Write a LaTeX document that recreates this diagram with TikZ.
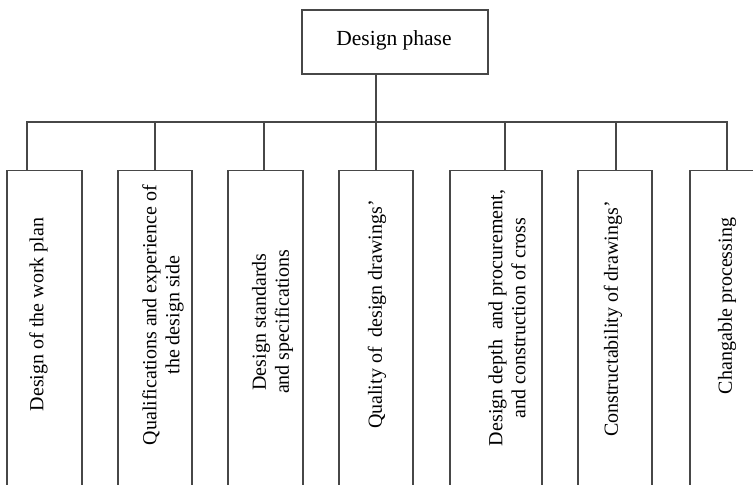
\documentclass[tikz,border=0pt]{standalone}
\usepackage{fontspec}
\setmainfont{Liberation Serif}
\begin{document}
\begin{tikzpicture}[x=1pt,y=-1pt,
  frame/.style={draw=black!72,line width=1.3pt,inner sep=0pt},
  link/.style={draw=black!72,line width=1.3pt},
  vlabel/.style={rotate=90,inner sep=0pt,align=center,font=\fontsize{20}{23}\selectfont},
  toplabel/.style={inner sep=0pt,font=\fontsize{21.5}{25}\selectfont}]
\useasboundingbox (0,0) rectangle (753,485);
\clip (0,0) rectangle (753,485);
% top box
\node[frame,minimum width=186pt,minimum height=64pt] (top) at (395,42) {};
\node[toplabel] (toptext) at (394,40) {Design phase};
% bar coordinates
\coordinate (stem0) at (376,74);
\coordinate (barL) at (27,122);
\coordinate (barR) at (727,122);
% boxes
\node[frame,anchor=north,minimum width=75pt,minimum height=330pt] (b1) at (44.5,170) {};
\node[frame,anchor=north,minimum width=74pt,minimum height=330pt] (b2) at (155,170) {};
\node[frame,anchor=north,minimum width=75pt,minimum height=330pt] (b3) at (265.5,170) {};
\node[frame,anchor=north,minimum width=74pt,minimum height=330pt] (b4) at (376,170) {};
\node[frame,anchor=north,minimum width=92pt,minimum height=330pt] (b5) at (496,170) {};
\node[frame,anchor=north,minimum width=74pt,minimum height=330pt] (b6) at (615,170) {};
\node[frame,anchor=north,minimum width=75pt,minimum height=330pt] (b7) at (727.5,170) {};
% stems
\coordinate (s1) at (27,122);
\coordinate (s2) at (155,122);
\coordinate (s3) at (264,122);
\coordinate (s4) at (376,122);
\coordinate (s5) at (505,122);
\coordinate (s6) at (616,122);
\coordinate (s7) at (727,122);
\draw[link] (stem0) -- (s4);
\draw[link,line cap=rect] (barL) -- (barR);
\foreach \i in {1,...,7}{\draw[link] (s\i) -- (s\i |- b\i.north);}
% labels
\node[vlabel] (t1) at (38.5,314.5) {Design of the work plan};
\node[vlabel] (t2) at (163,315) {Qualifications and experience of\\the design side};
\node[vlabel] (t3) at (272.5,322) {Design standards\\and specifications};
\node[vlabel] (t4) at (377,314.5) {Quality of \ design drawings'};
\node[vlabel] (t5) at (507,318) {Design depth \ and procurement,\\and construction of cross};
\node[vlabel] (t6) at (613,319) {Constructability of drawings'};
\node[vlabel] (t7) at (727,306) {Changable processing};
\end{tikzpicture}
\end{document}
